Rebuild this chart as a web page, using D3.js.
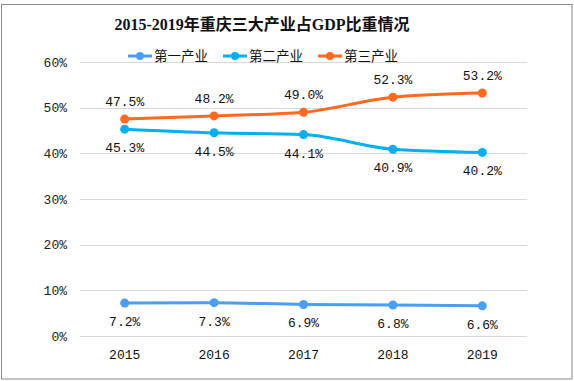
<!DOCTYPE html>
<html><head><meta charset="utf-8">
<script src="https://cdn.jsdelivr.net/npm/d3@7"></script>
<style>body{margin:0;background:#fff}</style>
</head><body>
<svg id="c" width="574" height="381"></svg>
<script>
const years = ["2015","2016","2017","2018","2019"];
const primary = [7.2, 7.3, 6.9, 6.8, 6.6];
const secondary = [45.3, 44.5, 44.1, 40.9, 40.2];
const tertiary = [47.5, 48.2, 49.0, 52.3, 53.2];
const seriesNames = ["第一产业","第二产业","第三产业"];
const yTicks = [0,10,20,30,40,50,60];
const title = "2015-2019年重庆三大产业占GDP比重情况";

const colors = ["#4a9ff5","#00b0f0","#ff6a1f"];
const svg = d3.select("#c");
svg.append("rect").attr("x",1.5).attr("y",4.5).attr("width",570.5).attr("height",374.5)
  .attr("fill","#fff").attr("stroke","#8a8a8a").attr("stroke-width",1);

const x = d3.scaleBand().domain(years).range([80,527]);
const y = d3.scaleLinear().domain([0,60]).range([336,62]);
const cx = d => x(d)+x.bandwidth()/2;

const mono = "'Liberation Mono','DejaVu Sans Mono',monospace";

// grid
svg.append("g").selectAll("line").data(yTicks).join("line")
  .attr("x1",80).attr("x2",527).attr("y1",d=>Math.round(y(d))+0.5).attr("y2",d=>Math.round(y(d))+0.5)
  .attr("stroke","#d9d9d9").attr("stroke-width",1);

// y axis
const ya = svg.append("g").attr("transform","translate(80,0)")
  .call(d3.axisLeft(y).tickValues(yTicks).tickFormat(d=>d+"%").tickSize(0).tickPadding(13));
ya.select(".domain").remove();
ya.selectAll("text").attr("font-family",mono).attr("font-size",13).attr("fill","#222");

// x axis
const xa = svg.append("g").attr("transform","translate(0,336)")
  .call(d3.axisBottom(x).tickSize(0).tickPadding(14));
xa.select(".domain").remove();
xa.selectAll("text").attr("font-family",mono).attr("font-size",13).attr("fill","#111");

// title
svg.append("text").attr("x",262).attr("y",30).attr("text-anchor","middle")
  .attr("font-family","'Liberation Serif','Noto Sans CJK SC',serif").attr("font-weight","bold")
  .attr("font-size",16).attr("fill","#111").text(title);

const data = [primary, secondary, tertiary];
const line = d3.line().x((d,i)=>cx(years[i])).y(d=>y(d)).curve(d3.curveMonotoneX);
const labelDy = [18, 18, -18];

data.forEach((vals,k)=>{
  const g = svg.append("g");
  g.append("path").datum(vals).attr("d",line).attr("fill","none")
    .attr("stroke",colors[k]).attr("stroke-width",3);
  g.selectAll("circle").data(vals).join("circle")
    .attr("cx",(d,i)=>cx(years[i])).attr("cy",d=>y(d)).attr("r",4.5).attr("fill",colors[k]);
  g.selectAll("text").data(vals).join("text")
    .attr("x",(d,i)=>cx(years[i])).attr("y",d=>y(d)+labelDy[k]+5)
    .attr("text-anchor","middle").attr("font-family",mono).attr("font-size",13).attr("fill","#111")
    .text(d=>d.toFixed(1)+"%");
});

// legend
const lx = [128,223,318];
const lg = svg.append("g");
seriesNames.forEach((n,k)=>{
  lg.append("line").attr("x1",lx[k]).attr("x2",lx[k]+24).attr("y1",56).attr("y2",56)
    .attr("stroke",colors[k]).attr("stroke-width",3);
  lg.append("circle").attr("cx",lx[k]+12).attr("cy",56).attr("r",4).attr("fill",colors[k]);
  lg.append("text").attr("x",lx[k]+26).attr("y",61).attr("font-family","'Noto Sans CJK SC',sans-serif")
    .attr("font-size",13.5).attr("fill","#111").text(n);
});
</script>
</body></html>
